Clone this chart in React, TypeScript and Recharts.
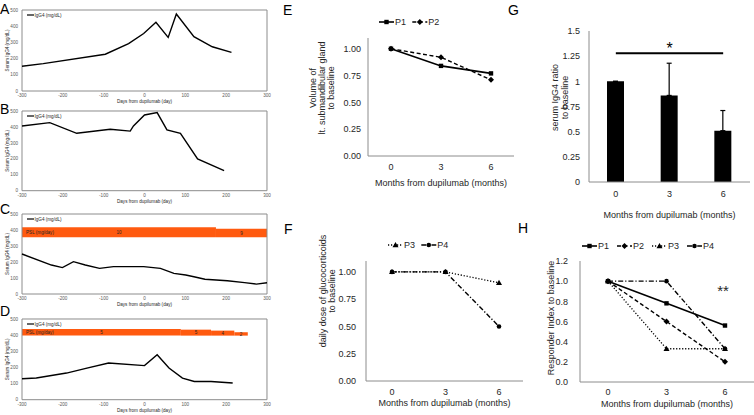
import React from "react";
import {
  LineChart,
  Line,
  BarChart,
  Bar,
  XAxis,
  YAxis,
  Legend,
  Label,
  ReferenceArea,
  ReferenceLine,
  ReferenceDot,
  ErrorBar,
} from "recharts";

const FONT = '"Liberation Sans", Arial, Helvetica, sans-serif';
const INK = "#262626";
const AXIS = "#8c8c8c";
const PSL_COLOR = "#ff5a0f";

// ---- A-D: serum IgG4 (mg/dL) vs days from dupilumab ----
const dayTicks = [-300, -200, -100, 0, 100, 200, 300];
const iggTicks = [0, 100, 200, 300, 400, 500];

const daysA = [-300, -248, -96, -39, -2, 28, 58, 78, 121, 166, 213];
const iggA = [153, 169, 227, 293, 355, 424, 331, 475, 335, 273, 238];

const daysB = [-300, -232, -166, -84, -35, -27, 0, 31, 55, 88, 130, 195];
const iggB = [406, 427, 360, 385, 374, 406, 475, 490, 381, 360, 199, 126];

const daysC = [-300, -228, -201, -174, -145, -110, -76, -2, 39, 72, 101, 121, 148, 203, 245, 274, 300];
const iggC = [250, 181, 165, 202, 181, 160, 171, 171, 160, 129, 119, 108, 92, 83, 71, 62, 70];

const daysD = [-300, -265, -191, -141, -88, 0, 31, 60, 93, 122, 163, 216];
const iggD = [130, 134, 165, 196, 227, 211, 279, 196, 134, 113, 113, 103];

// PSL dose bands (prednisolone, mg/day)
const pslC = [
  { from: -300, to: 175, low: 354, high: 417, dose: "10" },
  { from: 175, to: 300, low: 354, high: 408, dose: "9" },
];
const pslD = [
  { from: -300, to: 89, low: 397, high: 438, dose: "5" },
  { from: 89, to: 163, low: 397, high: 434, dose: "5" },
  { from: 163, to: 220, low: 397, high: 428, dose: "4" },
  { from: 220, to: 253, low: 397, high: 418, dose: "2" },
];

// ---- E-H: months from dupilumab ----
const months = ["0", "3", "6"];
const p1Volume = [1.0, 0.84, 0.77];
const p2Volume = [1.0, 0.92, 0.71];
const p3Dose = [1.0, 1.0, 0.9];
const p4Dose = [1.0, 1.0, 0.5];
const iggRatio = [1.0, 0.86, 0.51];
const iggRatioErr = [0, 0.32, 0.2];
const sigLevel = 1.28;
const p1Index = [1.0, 0.78, 0.56];
const p2Index = [1.0, 0.6, 0.2];
const p3Index = [1.0, 0.33, 0.33];
const p4Index = [1.0, 1.0, 0.33];

const SERIES_STYLE: Record<string, { dash?: string; shape: string; width: number }> = {
  P1: { shape: "square", width: 1.6 },
  P2: { dash: "4 2.5", shape: "diamond", width: 1.4 },
  P3: { dash: "1.2 1.8", shape: "triangle", width: 1.3 },
  P4: { dash: "5 2 1.2 2", shape: "circle", width: 1.4 },
};

function Marker({ cx, cy, shape }: { cx: number; cy: number; shape: string }) {
  if (cx == null || cy == null) return null;
  if (shape === "square")
    return <rect x={cx - 2.2} y={cy - 2.2} width={4.4} height={4.4} fill="#000" />;
  if (shape === "diamond")
    return <polygon points={`${cx},${cy - 3} ${cx + 3},${cy} ${cx},${cy + 3} ${cx - 3},${cy}`} fill="#000" />;
  if (shape === "triangle")
    return <polygon points={`${cx},${cy - 3} ${cx + 3},${cy + 2.2} ${cx - 3},${cy + 2.2}`} fill="#000" />;
  return <circle cx={cx} cy={cy} r={2.3} fill="#000" />;
}

const xTitle = (text: string, dy: number, size: number) => (props: any) => {
  const vb = props.viewBox || {};
  return (
    <text x={vb.x + vb.width / 2} y={vb.y + dy} textAnchor="middle" dominantBaseline="central"
      fontSize={size} fill={INK} fontFamily={FONT}>
      {text}
    </text>
  );
};

const yTitle = (lines: string[], x0: number, gap: number, dy: number, size: number) => (props: any) => {
  const vb = props.viewBox || {};
  const cy = vb.y + vb.height / 2 + dy;
  return (
    <g>
      {lines.map((t, i) => {
        const x = x0 + i * gap;
        return (
          <text key={t} x={x} y={cy} transform={`rotate(-90 ${x} ${cy})`} textAnchor="middle"
            dominantBaseline="central" fontSize={size} fill={INK} fontFamily={FONT}>
            {t}
          </text>
        );
      })}
    </g>
  );
};

// legends span the full chart width, items are offset inside the svg
function IggLegend({ payload, width, x0 }: any) {
  const name = payload && payload[0] ? payload[0].value : "";
  return (
    <svg width={width} height={8} style={{ display: "block" }}>
      <line x1={x0 + 1} x2={x0 + 8} y1={4} y2={4} stroke="#000" strokeWidth={1.2} />
      <text x={x0 + 8.5} y={4} dominantBaseline="central" fontSize={4.6} fill={INK} fontFamily={FONT}>{name}</text>
    </svg>
  );
}

function SeriesLegend({ payload, width, x0, spacing }: any) {
  const items = payload || [];
  return (
    <svg width={width} height={12} style={{ display: "block", overflow: "visible" }}>
      {items.map((it: any, i: number) => {
        const x = x0 + i * spacing;
        const st = SERIES_STYLE[it.value];
        return (
          <g key={it.value}>
            <line x1={x} x2={x + 15} y1={6} y2={6} stroke="#000" strokeWidth={st.width} strokeDasharray={st.dash} />
            <Marker cx={x + 7.5} cy={6} shape={st.shape} />
            <text x={x + 16} y={6} dominantBaseline="central" fontSize={9} fill={INK} fontFamily={FONT}>{it.value}</text>
          </g>
        );
      })}
    </svg>
  );
}

type Psl = { from: number; to: number; low: number; high: number; dose: string };

function IggPanel({ boxTop, boxBottom, days, igg, psl = [] }: {
  boxTop: number; boxBottom: number; days: number[]; igg: number[]; psl?: Psl[];
}) {
  const data = days.map((day, i) => ({ day, igg: igg[i] }));
  const padTop = 4;
  const axisH = 17;
  const width = 272;
  const height = boxBottom - boxTop + padTop + axisH;
  const tick = { fontSize: 4.6, fill: "#595959", fontFamily: FONT };
  return (
    <div style={{ position: "absolute", left: 0, top: boxTop - padTop }}>
      <LineChart width={width} height={height} data={data} margin={{ top: padTop, right: 5, bottom: 0, left: 0 }}>
        <XAxis dataKey="day" type="number" domain={[-300, 300]} ticks={dayTicks} interval={0} height={axisH}
          axisLine={false} tickLine={false} tickSize={0} tickMargin={3} tick={tick}>
          <Label content={xTitle("Days from dupilumab (day)", 10.5, 4.6)} />
        </XAxis>
        <YAxis type="number" domain={[0, 500]} ticks={iggTicks} interval={0} width={22}
          axisLine={false} tickLine={false} tickSize={0} tickMargin={4} tick={tick}>
          <Label content={yTitle(["Serum IgG4 (mg/dL)"], 7.5, 0, 0, 4.6)} />
        </YAxis>
        {psl.map((s, i) => (
          <ReferenceArea key={i} x1={s.from} x2={s.to} y1={s.low} y2={s.high} fill={PSL_COLOR}
            fillOpacity={1} stroke="none" ifOverflow="visible">
            <Label value={s.dose} position="center" fontSize={4.6} fill={INK} fontFamily={FONT} />
            {i === 0 && (
              <Label value="PSL (mg/day)" position="insideLeft" offset={4} fontSize={4.6} fill={INK} fontFamily={FONT} />
            )}
          </ReferenceArea>
        ))}
        <ReferenceArea x1={-300} x2={300} y1={0} y2={500} fill="none" stroke={AXIS} strokeWidth={1} ifOverflow="visible" />
        <Line type="linear" dataKey="igg" name="IgG4 (mg/dL)" stroke="#000" strokeWidth={1.4}
          dot={false} isAnimationActive={false} />
        <Legend verticalAlign="middle" align="center" layout="horizontal"
          wrapperStyle={{ left: 0, top: 4.7, width, height: 8 }}
          content={(p: any) => <IggLegend {...p} width={width} x0={26} />} />
      </LineChart>
    </div>
  );
}

type TrendSeries = { name: string; values: number[] };

function TrendPanel(props: {
  left: number; top: number; width: number; height: number;
  margin: { top: number; right: number; bottom: number; left: number };
  yWidth: number; xHeight: number; yDomain: number[]; yTicks: number[]; yFmt: (v: number) => string;
  tickMarginY: number; tickMarginX: number; xPad: { left: number; right: number };
  titleDy: number; yLines: string[]; yX: number; yGap: number; yDy: number;
  series: TrendSeries[]; legendPos: { left: number; top: number }; legendSpacing: number;
  children?: React.ReactNode;
}) {
  const data = months.map((m, i) => {
    const row: Record<string, number | string> = { month: m };
    props.series.forEach((s) => { row[s.name] = s.values[i]; });
    return row;
  });
  const tick = { fontSize: 9, fill: INK, fontFamily: FONT };
  return (
    <div style={{ position: "absolute", left: props.left, top: props.top }}>
      <LineChart width={props.width} height={props.height} data={data} margin={props.margin}>
        <XAxis dataKey="month" type="category" height={props.xHeight} padding={props.xPad}
          axisLine={{ stroke: AXIS }} tickLine={false} tickSize={0} tickMargin={props.tickMarginX} tick={tick}>
          <Label content={xTitle("Months from dupilumab (months)", props.titleDy, 9)} />
        </XAxis>
        <YAxis type="number" domain={props.yDomain} ticks={props.yTicks} interval={0} width={props.yWidth}
          tickFormatter={props.yFmt} axisLine={{ stroke: AXIS }} tickLine={false} tickSize={0}
          tickMargin={props.tickMarginY} tick={tick}>
          <Label content={yTitle(props.yLines, props.yX, props.yGap, props.yDy, 9)} />
        </YAxis>
        {props.series.map((s) => {
          const st = SERIES_STYLE[s.name];
          return (
            <Line key={s.name} type="linear" dataKey={s.name} name={s.name} stroke="#000"
              strokeWidth={st.width} strokeDasharray={st.dash} isAnimationActive={false}
              dot={(p: any) => <Marker key={`${s.name}-${p.index}`} cx={p.cx} cy={p.cy} shape={st.shape} />}
              activeDot={false} />
          );
        })}
        {props.children}
        <Legend verticalAlign="middle" align="center" layout="horizontal"
          wrapperStyle={{ left: 0, top: props.legendPos.top, width: props.width, height: 12 }}
          content={(p: any) => (
            <SeriesLegend {...p} width={props.width} x0={props.legendPos.left} spacing={props.legendSpacing} />
          )} />
      </LineChart>
    </div>
  );
}

function RatioPanel() {
  const data = months.map((m, i) => ({ month: m, ratio: iggRatio[i], err: [0, iggRatioErr[i]] }));
  const tick = { fontSize: 9, fill: INK, fontFamily: FONT };
  return (
    <div style={{ position: "absolute", left: 530, top: 0 }}>
      <BarChart width={224} height={222} data={data} margin={{ top: 31, right: 4, bottom: 3, left: 0 }}>
        <XAxis dataKey="month" type="category" height={37} axisLine={{ stroke: AXIS }} tickLine={false}
          tickSize={0} tickMargin={8.5} tick={tick}>
          <Label content={xTitle("Months from dupilumab (months)", 33, 9)} />
        </XAxis>
        <YAxis type="number" domain={[0, 1.5]} ticks={[0, 0.25, 0.5, 0.75, 1, 1.25, 1.5]} interval={0} width={59}
          tickFormatter={(v: number) => String(v)} axisLine={{ stroke: AXIS }} tickLine={false} tickSize={0}
          tickMargin={9} tick={tick}>
          <Label content={yTitle(["serum IgG4 ratio", "to baseline"], 25, 9.5, -9, 9)} />
        </YAxis>
        <Bar dataKey="ratio" fill="#000" barSize={17} isAnimationActive={false}>
          <ErrorBar dataKey="err" direction="y" width={2.5} stroke="#000" strokeWidth={1.2} isAnimationActive={false} />
        </Bar>
        <ReferenceLine segment={[{ x: months[0], y: sigLevel }, { x: months[2], y: sigLevel }]} stroke="#000"
          strokeWidth={2} ifOverflow="visible"
          label={{ value: "*", position: "top", offset: -1, fontSize: 16, fill: "#000", fontFamily: FONT }} />
      </BarChart>
    </div>
  );
}

const letterStyle = (left: number, top: number): React.CSSProperties => ({
  position: "absolute", left, top, fontSize: 14, lineHeight: "14px", fontFamily: FONT, color: "#000",
});

export default function App() {
  return (
    <div style={{ position: "absolute", left: 0, top: 0, width: 754, height: 415, background: "#fff", overflow: "hidden", fontFamily: FONT }}>
      <IggPanel boxTop={10} boxBottom={91} days={daysA} igg={iggA} />
      <IggPanel boxTop={111} boxBottom={190.7} days={daysB} igg={iggB} />
      <IggPanel boxTop={214} boxBottom={294} days={daysC} igg={iggC} psl={pslC} />
      <IggPanel boxTop={319.3} boxBottom={400} days={daysD} igg={iggD} psl={pslD} />

      <TrendPanel left={300} top={0} width={220} height={200} margin={{ top: 38, right: 6, bottom: 14, left: 0 }}
        yWidth={68} xHeight={30} yDomain={[0, 1.1]} yTicks={[0, 0.25, 0.5, 0.75, 1]} yFmt={(v) => v.toFixed(2)}
        tickMarginY={7} tickMarginX={8} xPad={{ left: 23, right: 23 }} titleDy={26.7}
        yLines={["Volume of", "lt. submandibular gland", "to baseline"]} yX={12.7} yGap={9.2} yDy={-9}
        series={[{ name: "P1", values: p1Volume }, { name: "P2", values: p2Volume }]}
        legendPos={{ left: 79, top: 15.7 }} legendSpacing={33.3} />

      <TrendPanel left={300} top={200} width={230} height={215} margin={{ top: 61, right: 7, bottom: 9, left: 0 }}
        yWidth={66} xHeight={25} yDomain={[0, 1.1]} yTicks={[0, 0.25, 0.5, 0.75, 1]} yFmt={(v) => v.toFixed(2)}
        tickMarginY={10} tickMarginX={7.5} xPad={{ left: 26, right: 24 }} titleDy={22.3}
        yLines={["daily dose of glucocorticoids", "to baseline"]} yX={22.7} yGap={9} yDy={-30}
        series={[{ name: "P3", values: p3Dose }, { name: "P4", values: p4Dose }]}
        legendPos={{ left: 88, top: 39 }} legendSpacing={33.3} />

      <RatioPanel />

      <TrendPanel left={530} top={200} width={224} height={215} margin={{ top: 61, right: 0, bottom: 8, left: 0 }}
        yWidth={50} xHeight={25} yDomain={[0, 1.2]} yTicks={[0, 0.2, 0.4, 0.6, 0.8, 1, 1.2]} yFmt={(v) => v.toFixed(1)}
        tickMarginY={12} tickMarginX={7} xPad={{ left: 28, right: 29 }} titleDy={21.6}
        yLines={["Responder Index to baseline"]} yX={20.7} yGap={0} yDy={-3.5}
        series={[
          { name: "P1", values: p1Index }, { name: "P2", values: p2Index },
          { name: "P3", values: p3Index }, { name: "P4", values: p4Index },
        ]}
        legendPos={{ left: 52, top: 39.7 }} legendSpacing={35}>
        <ReferenceDot x={months[2]} y={0.91} r={0} fill="none" stroke="none" ifOverflow="visible"
          label={{ value: "**", position: "center", fontSize: 15, fill: INK, fontFamily: FONT, dx: -2 }} />
      </TrendPanel>

      <div style={letterStyle(0, 1.5)}>A</div>
      <div style={letterStyle(0, 101.5)}>B</div>
      <div style={letterStyle(0, 201.5)}>C</div>
      <div style={letterStyle(0, 303.5)}>D</div>
      <div style={letterStyle(283, 2.5)}>E</div>
      <div style={letterStyle(284, 221.5)}>F</div>
      <div style={letterStyle(508, 2.5)}>G</div>
      <div style={letterStyle(518, 220.5)}>H</div>
    </div>
  );
}
